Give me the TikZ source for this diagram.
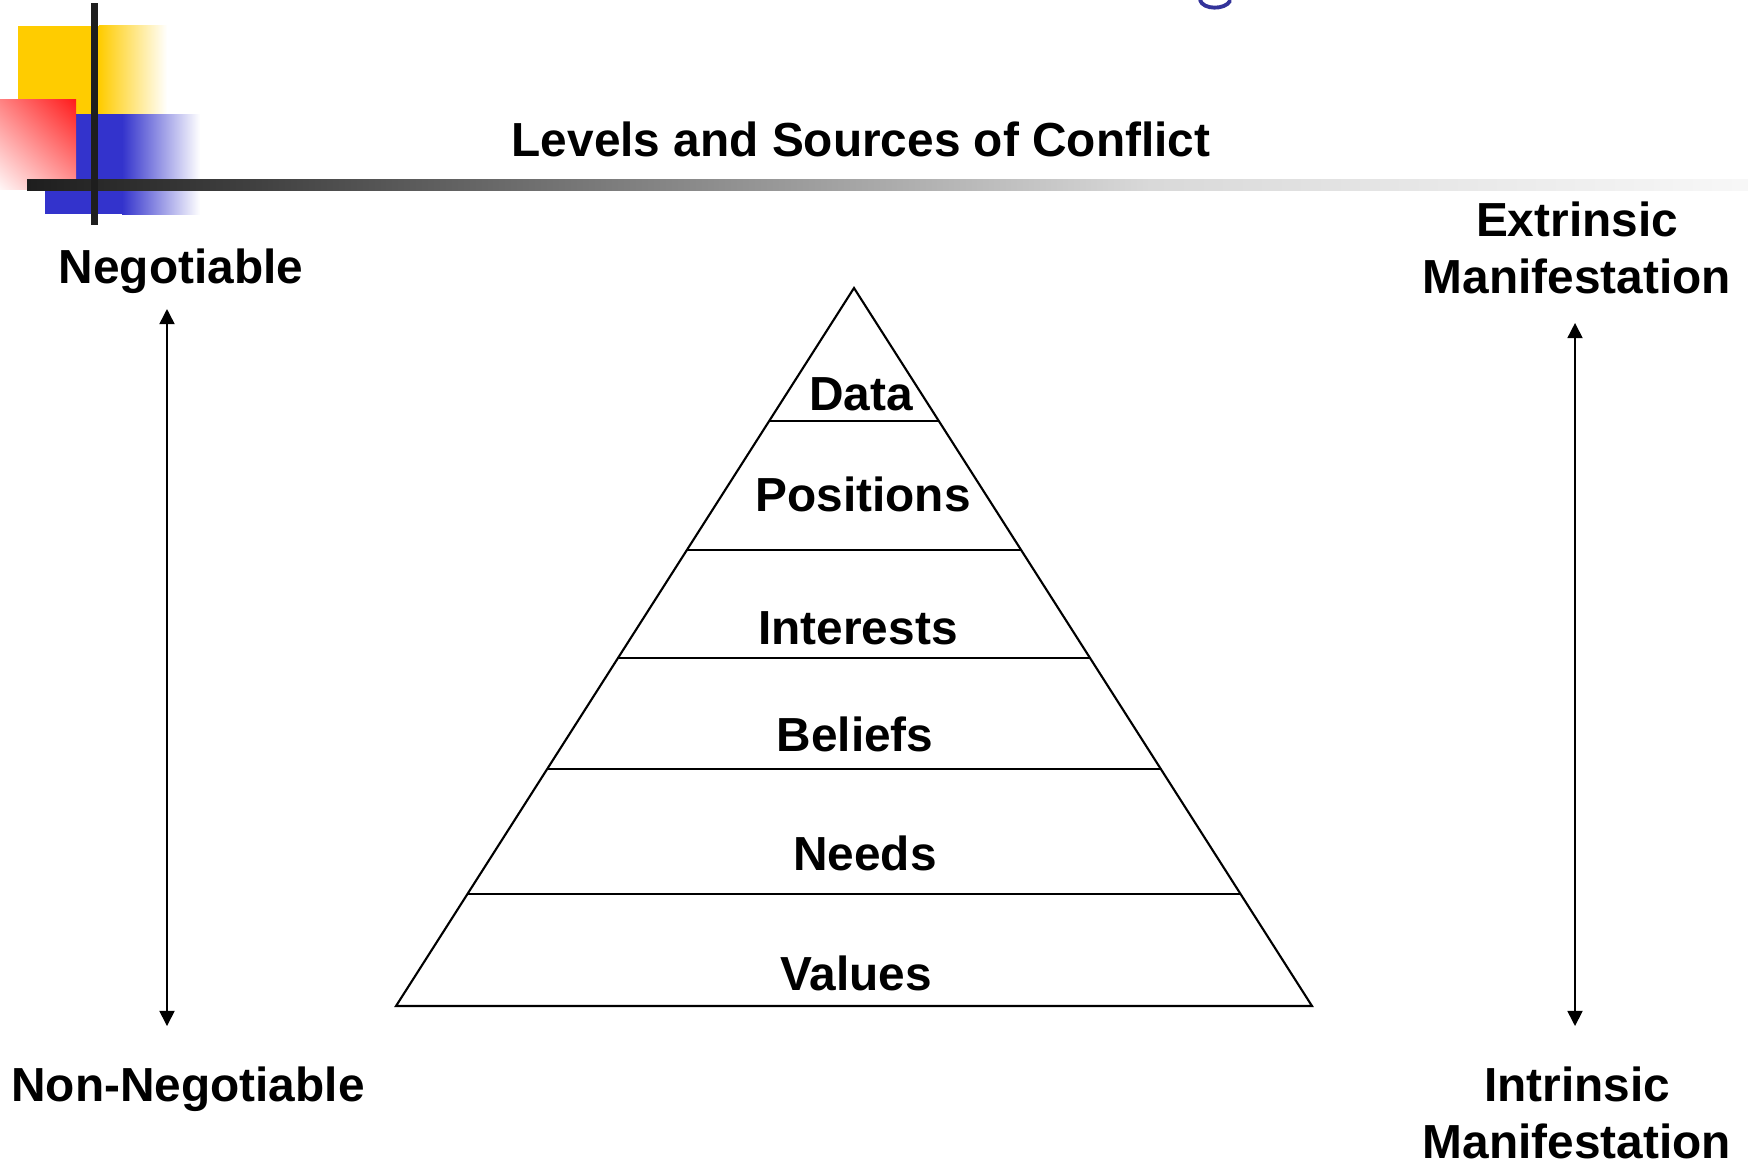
\documentclass[tikz,border=0pt]{standalone}
\usepackage{fontspec}
\setmainfont{Liberation Sans}
\usetikzlibrary{arrows.meta,calc,shadings}

\definecolor{logoyellow}{HTML}{FFCC00}
\definecolor{logoblue}{HTML}{3333CC}
\definecolor{logored}{HTML}{FF1A1A}
\definecolor{logodark}{HTML}{1E1E1E}
\definecolor{titleblue}{HTML}{33339A}

\pgfdeclarehorizontalshading{rulefade}{100bp}{color(0bp)=(logodark); color(25bp)=(logodark);
  color(31.5bp)=(black!75); color(50bp)=(black!33); color(57.6bp)=(black!15);
  color(75bp)=(white!97!black); color(100bp)=(white!97!black)}

\tikzset{
  lbl/.style={font=\bfseries\fontsize{13.6}{16.2}\selectfont, inner sep=0pt},
  lvl/.style={lbl, anchor=base},
  axis/.style={line width=0.45pt, {Triangle[width=4.3pt,length=4.3pt]}-{Triangle[width=4.3pt,length=4.3pt]}}
}

\begin{document}
\begin{tikzpicture}[x=0.1mm, y=-0.1mm]
      \useasboundingbox (0,0) rectangle (1748,1161);
      % corner logo
      \fill[logoyellow] (18,26) rectangle (99,114);
      \shade[left color=logoyellow, right color=white] (99,25) rectangle (167,114);
      \fill[logoblue] (45,114) rectangle (122,214);
      \shade[left color=logoblue, right color=white] (122,114) rectangle (200,214);
      \shade[upper right=logored, upper left=logored!55, lower right=logored!45, lower left=logored!4]
        (0,99) rectangle (76,189);
      \shade[shading=rulefade] (27,179) rectangle (1748,190);
      \fill[logodark] (91,3) rectangle (98,225);
      \draw[titleblue, line width=1.1pt, line cap=round] (1200,0) .. controls (1203,10) and (1225,10) .. (1230,1);
      \node[lvl] (title) at (861,156) {Levels and Sources of Conflict};
      % side scales
      \node[lvl] (neg) at (181,283) {Negotiable};
      \node[lvl] (nonneg) at (188,1101) {Non-Negotiable};
      \node[lbl, anchor=north, align=center] (extr) at (1577,201) {Extrinsic\\Manifestation};
      \node[lbl, anchor=north, align=center] (intr) at (1577,1066) {Intrinsic\\Manifestation};
      \coordinate (negtop) at (167,309);
      \coordinate (negbot) at (167,1026);
      \coordinate (mantop) at (1575,323);
      \coordinate (manbot) at (1575,1026);
      \draw[axis] (negtop) -- (negbot);
      \draw[axis] (mantop) -- (manbot);
      % pyramid
      \coordinate (apex) at (854,288);
      \coordinate (bl) at (396,1006);
      \coordinate (br) at (1312,1006);
      \draw[line width=0.6pt, line join=miter] (apex) -- (bl) -- (br) -- cycle;
      \foreach \t in {0.1858,0.3643,0.5149,0.6702,0.8442}
        \draw[line width=0.6pt] ($(apex)!\t!(bl)$) -- ($(apex)!\t!(br)$);
      \node[lvl] (data) at (861,410) {Data};
      \node[lvl] (positions) at (863,511) {Positions};
      \node[lvl] (interests) at (858,644) {Interests};
      \node[lvl] (beliefs) at (855,751) {Beliefs};
      \node[lvl] (needs) at (865,870) {Needs};
      \node[lvl] (values) at (856,990) {Values};
    \end{tikzpicture}
\end{document}
